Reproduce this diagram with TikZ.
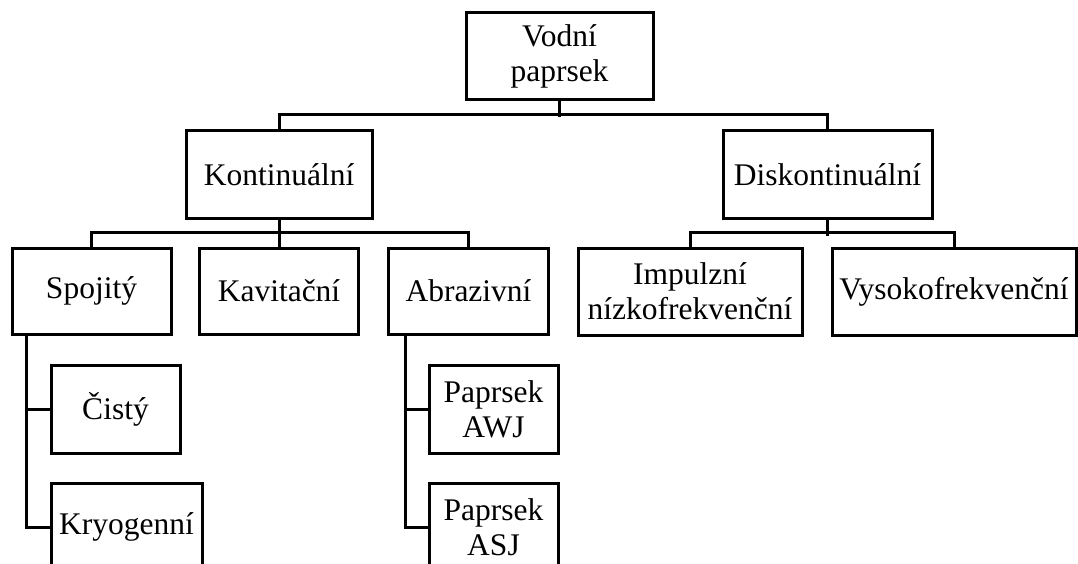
\documentclass[tikz,border=0pt]{standalone}
\usepackage{fontspec}
\setmainfont{Liberation Serif}
\begin{document}
\begin{tikzpicture}[x=1pt, y=-1pt, line width=3pt,
    box/.style={draw, rectangle, inner sep=0pt, align=center,
      font=\fontsize{31.5}{35}\selectfont}]
          \clip (0,0) rectangle (1078,564);

          \node[box, minimum width=187pt, minimum height=87pt] (voda) at (559.5,56.5) {Vodní\\paprsek};

          \node[box, minimum width=186pt, minimum height=87pt] (kont) at (279,174.5) {Kontinuální};
          \node[box, minimum width=209pt, minimum height=87pt] (disk) at (827.5,174.5) {Diskontinuální};

          \node[box, minimum width=159pt, minimum height=86pt] (spoj) at (91.5,291) {Spojitý};
          \node[box, minimum width=159pt, minimum height=86pt] (kav) at (279,291) {Kavitační};
          \node[box, minimum width=160pt, minimum height=86pt] (abr) at (468.5,291) {Abrazivní};
          \node[box, minimum width=224pt, minimum height=87pt] (imp) at (690,291.5) {Impulzní\\nízkofrekvenční};
          \node[box, minimum width=244pt, minimum height=87pt] (vys) at (954,291.5) {Vysokofrekvenční};

          \node[box, minimum width=129pt, minimum height=88pt] (cist) at (115.5,409) {Čistý};
          \node[box, minimum width=151pt, minimum height=88pt] (kryo) at (126.5,527) {Kryogenní};
          \node[box, minimum width=129pt, minimum height=88pt] (awj) at (493.5,409) {Paprsek\\AWJ};
          \node[box, minimum width=129pt, minimum height=88pt] (asj) at (493.5,527) {Paprsek\\ASJ};

          \draw (voda.south) -- ++(0,16);
          \draw (kont.north) -- ++(0,-15) -| (disk.north);

          \draw (kont.south) -- (kav.north);
          \draw (spoj.north) -- ++(0,-14) -| (abr.north);
          \draw (disk.south) -- ++(0,16);
          \draw (imp.north) -- ++(0,-14) -| (vys.north);

          \draw ([xshift=16pt]spoj.south west) |- (kryo.west);
          \draw (cist.west) -- ++(-23,0);
          \draw ([xshift=18pt]abr.south west) |- (asj.west);
          \draw (awj.west) -- ++(-23,0);
        \end{tikzpicture}
\end{document}
